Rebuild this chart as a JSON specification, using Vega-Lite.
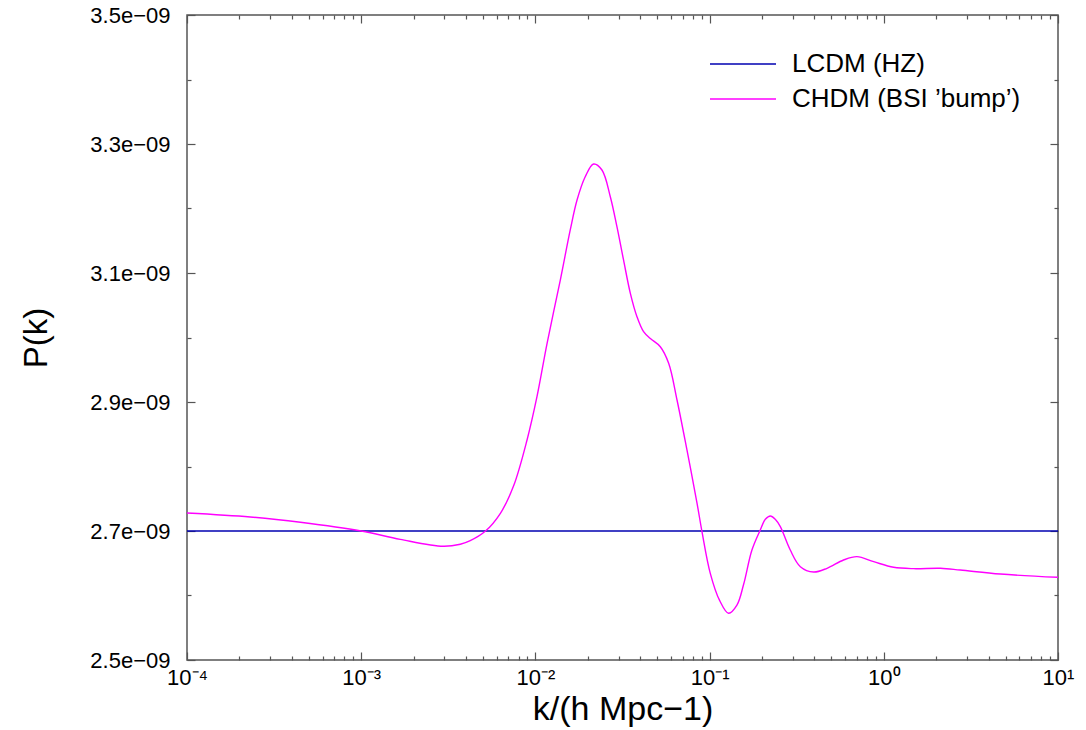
{
  "$schema": "https://vega.github.io/schema/vega-lite/v6.json",
  "width": 871,
  "height": 645,
  "autosize": {"type": "none"},
  "padding": {"left": 187, "top": 15, "right": 28, "bottom": 70},
  "background": "white",
  "config": {
    "font": "Liberation Sans",
    "view": {"stroke": "#555555", "strokeWidth": 1.5},
    "axis": {"grid": false, "domain": false, "tickColor": "#555555", "tickWidth": 1.2, "labelColor": "#000000", "titleColor": "#000000", "labelFont": "Liberation Sans", "titleFont": "Liberation Sans", "titleFontWeight": "normal"}
  },
  "datasets": {
    "curves": [
      {"model": "LCDM (HZ)", "k": 0.0001, "P": 2.7e-9},
      {"model": "LCDM (HZ)", "k": 10, "P": 2.7e-9},
      {"model": "CHDM (BSI ’bump’)", "k": 0.0001, "P": 2.728e-9},
      {"model": "CHDM (BSI ’bump’)", "k": 0.0002307, "P": 2.7218e-9},
      {"model": "CHDM (BSI ’bump’)", "k": 0.0004477, "P": 2.7135e-9},
      {"model": "CHDM (BSI ’bump’)", "k": 0.001, "P": 2.700e-9},
      {"model": "CHDM (BSI ’bump’)", "k": 0.001675, "P": 2.6871e-9},
      {"model": "CHDM (BSI ’bump’)", "k": 0.002958, "P": 2.6763e-9},
      {"model": "CHDM (BSI ’bump’)", "k": 0.003707, "P": 2.6795e-9},
      {"model": "CHDM (BSI ’bump’)", "k": 0.004227, "P": 2.685e-9},
      {"model": "CHDM (BSI ’bump’)", "k": 0.005152, "P": 2.6995e-9},
      {"model": "CHDM (BSI ’bump’)", "k": 0.006295, "P": 2.7274e-9},
      {"model": "CHDM (BSI ’bump’)", "k": 0.007499, "P": 2.7700e-9},
      {"model": "CHDM (BSI ’bump’)", "k": 0.008954, "P": 2.8411e-9},
      {"model": "CHDM (BSI ’bump’)", "k": 0.01021, "P": 2.9082e-9},
      {"model": "CHDM (BSI ’bump’)", "k": 0.01167, "P": 2.991e-9},
      {"model": "CHDM (BSI ’bump’)", "k": 0.0139, "P": 3.0891e-9},
      {"model": "CHDM (BSI ’bump’)", "k": 0.01585, "P": 3.1667e-9},
      {"model": "CHDM (BSI ’bump’)", "k": 0.01734, "P": 3.2132e-9},
      {"model": "CHDM (BSI ’bump’)", "k": 0.01932, "P": 3.2493e-9},
      {"model": "CHDM (BSI ’bump’)", "k": 0.02158, "P": 3.269e-9},
      {"model": "CHDM (BSI ’bump’)", "k": 0.0241, "P": 3.2597e-9},
      {"model": "CHDM (BSI ’bump’)", "k": 0.02692, "P": 3.2183e-9},
      {"model": "CHDM (BSI ’bump’)", "k": 0.02938, "P": 3.1718e-9},
      {"model": "CHDM (BSI ’bump’)", "k": 0.03206, "P": 3.1202e-9},
      {"model": "CHDM (BSI ’bump’)", "k": 0.03508, "P": 3.0685e-9},
      {"model": "CHDM (BSI ’bump’)", "k": 0.03828, "P": 3.0323e-9},
      {"model": "CHDM (BSI ’bump’)", "k": 0.04178, "P": 3.009e-9},
      {"model": "CHDM (BSI ’bump’)", "k": 0.04571, "P": 2.9984e-9},
      {"model": "CHDM (BSI ’bump’)", "k": 0.05212, "P": 2.9857e-9},
      {"model": "CHDM (BSI ’bump’)", "k": 0.05821, "P": 2.96e-9},
      {"model": "CHDM (BSI ’bump’)", "k": 0.06501, "P": 2.9031e-9},
      {"model": "CHDM (BSI ’bump’)", "k": 0.07413, "P": 2.8256e-9},
      {"model": "CHDM (BSI ’bump’)", "k": 0.08472, "P": 2.7429e-9},
      {"model": "CHDM (BSI ’bump’)", "k": 0.09036, "P": 2.6995e-9},
      {"model": "CHDM (BSI ’bump’)", "k": 0.1009, "P": 2.6344e-9},
      {"model": "CHDM (BSI ’bump’)", "k": 0.1143, "P": 2.592e-9},
      {"model": "CHDM (BSI ’bump’)", "k": 0.1285, "P": 2.5724e-9},
      {"model": "CHDM (BSI ’bump’)", "k": 0.1435, "P": 2.585e-9},
      {"model": "CHDM (BSI ’bump’)", "k": 0.1567, "P": 2.617e-9},
      {"model": "CHDM (BSI ’bump’)", "k": 0.175, "P": 2.6705e-9},
      {"model": "CHDM (BSI ’bump’)", "k": 0.1954, "P": 2.7016e-9},
      {"model": "CHDM (BSI ’bump’)", "k": 0.2089, "P": 2.7181e-9},
      {"model": "CHDM (BSI ’bump’)", "k": 0.2234, "P": 2.7233e-9},
      {"model": "CHDM (BSI ’bump’)", "k": 0.2382, "P": 2.7181e-9},
      {"model": "CHDM (BSI ’bump’)", "k": 0.2547, "P": 2.7067e-9},
      {"model": "CHDM (BSI ’bump’)", "k": 0.2904, "P": 2.6705e-9},
      {"model": "CHDM (BSI ’bump’)", "k": 0.3319, "P": 2.6447e-9},
      {"model": "CHDM (BSI ’bump’)", "k": 0.3954, "P": 2.6364e-9},
      {"model": "CHDM (BSI ’bump’)", "k": 0.4721, "P": 2.6422e-9},
      {"model": "CHDM (BSI ’bump’)", "k": 0.5875, "P": 2.655e-9},
      {"model": "CHDM (BSI ’bump’)", "k": 0.7015, "P": 2.6602e-9},
      {"model": "CHDM (BSI ’bump’)", "k": 0.875, "P": 2.6524e-9},
      {"model": "CHDM (BSI ’bump’)", "k": 1.138, "P": 2.6437e-9},
      {"model": "CHDM (BSI ’bump’)", "k": 1.483, "P": 2.6416e-9},
      {"model": "CHDM (BSI ’bump’)", "k": 2.118, "P": 2.6422e-9},
      {"model": "CHDM (BSI ’bump’)", "k": 2.748, "P": 2.6395e-9},
      {"model": "CHDM (BSI ’bump’)", "k": 4.667, "P": 2.6333e-9},
      {"model": "CHDM (BSI ’bump’)", "k": 10, "P": 2.6282e-9}
    ]
  },
  "data": {"name": "curves"},
  "layer": [
    {
      "mark": {"type": "line", "interpolate": "catmull-rom", "strokeWidth": 1.4, "clip": true},
      "encoding": {
        "x": {
          "field": "k", "type": "quantitative",
          "scale": {"type": "log", "domain": [0.0001, 10], "nice": false},
          "axis": {
            "orient": "bottom",
            "values": [0.0001, 0.001, 0.01, 0.1, 1, 10],
            "tickSize": -8,
            "labelFontSize": 22,
            "labelPadding": 15,
            "labelBaseline": "top",
            "labelFlush": false,
            "labelOverlap": false,
            "labelExpr": "datum.value < 0.0005 ? '10⁻⁴' : datum.value < 0.005 ? '10⁻³' : datum.value < 0.05 ? '10⁻²' : datum.value < 0.5 ? '10⁻¹' : datum.value < 5 ? '10⁰' : '10¹'",
            "title": "k/(h Mpc−1)",
            "titleFontSize": 34,
            "titlePadding": 4
          }
        },
        "y": {
          "field": "P", "type": "quantitative",
          "scale": {"domain": [2.5e-9, 3.5e-9], "nice": false, "zero": false},
          "axis": {
            "orient": "left",
            "values": [2.5e-9, 2.7e-9, 2.9e-9, 3.1e-9, 3.3e-9, 3.5e-9],
            "tickSize": -8,
            "labelFontSize": 22,
            "labelPadding": 25,
            "labelOverlap": false,
            "labelFlush": false,
            "labelExpr": "replace(format(datum.value, '.1e'), 'e-9', 'e−09')",
            "title": "P(k)",
            "titleFontSize": 33,
            "titlePadding": 36
          }
        },
        "color": {
          "field": "model", "type": "nominal",
          "scale": {"domain": ["LCDM (HZ)", "CHDM (BSI ’bump’)"], "range": ["#0000b0", "#ff00ff"]},
          "legend": {
            "title": null,
            "orient": "none",
            "legendX": 543,
            "legendY": 36,
            "padding": 0,
            "symbolType": "M-3,0H3",
            "symbolSize": 484,
            "symbolStrokeWidth": 1.4,
            "labelFontSize": 26,
            "labelFont": "Liberation Sans",
            "labelColor": "#000000",
            "labelOffset": 36,
            "rowPadding": 9,
            "labelLimit": 400
          }
        }
      }
    },
    {
      "mark": {"type": "point", "opacity": 0},
      "encoding": {
        "x": {"field": "k", "type": "quantitative", "axis": {
          "orient": "bottom", "labels": false, "title": null, "tickSize": -4,
          "values": [0.0002,0.0003,0.0004,0.0005,0.0006,0.0007,0.0008,0.0009,0.002,0.003,0.004,0.005,0.006,0.007,0.008,0.009,0.02,0.03,0.04,0.05,0.06,0.07,0.08,0.09,0.2,0.3,0.4,0.5,0.6,0.7,0.8,0.9,2,3,4,5,6,7,8,9]
        }},
        "y": {"field": "P", "type": "quantitative", "axis": {
          "orient": "left", "labels": false, "title": null, "tickSize": -4,
          "values": [2.6e-9, 2.8e-9, 3.0e-9, 3.2e-9, 3.4e-9]
        }}
      }
    },
    {
      "mark": {"type": "point", "opacity": 0},
      "encoding": {
        "x": {"field": "k", "type": "quantitative", "axis": {
          "orient": "top", "labels": false, "title": null, "tickSize": -8,
          "values": [0.0001, 0.001, 0.01, 0.1, 1, 10]
        }},
        "y": {"field": "P", "type": "quantitative", "axis": {
          "orient": "right", "labels": false, "title": null, "tickSize": -8,
          "values": [2.5e-9, 2.7e-9, 2.9e-9, 3.1e-9, 3.3e-9, 3.5e-9]
        }}
      }
    },
    {
      "mark": {"type": "point", "opacity": 0},
      "encoding": {
        "x": {"field": "k", "type": "quantitative", "axis": {
          "orient": "top", "labels": false, "title": null, "tickSize": -4,
          "values": [0.0002,0.0003,0.0004,0.0005,0.0006,0.0007,0.0008,0.0009,0.002,0.003,0.004,0.005,0.006,0.007,0.008,0.009,0.02,0.03,0.04,0.05,0.06,0.07,0.08,0.09,0.2,0.3,0.4,0.5,0.6,0.7,0.8,0.9,2,3,4,5,6,7,8,9]
        }},
        "y": {"field": "P", "type": "quantitative", "axis": {
          "orient": "right", "labels": false, "title": null, "tickSize": -4,
          "values": [2.6e-9, 2.8e-9, 3.0e-9, 3.2e-9, 3.4e-9]
        }}
      }
    }
  ],
  "resolve": {"axis": {"x": "independent", "y": "independent"}}
}
